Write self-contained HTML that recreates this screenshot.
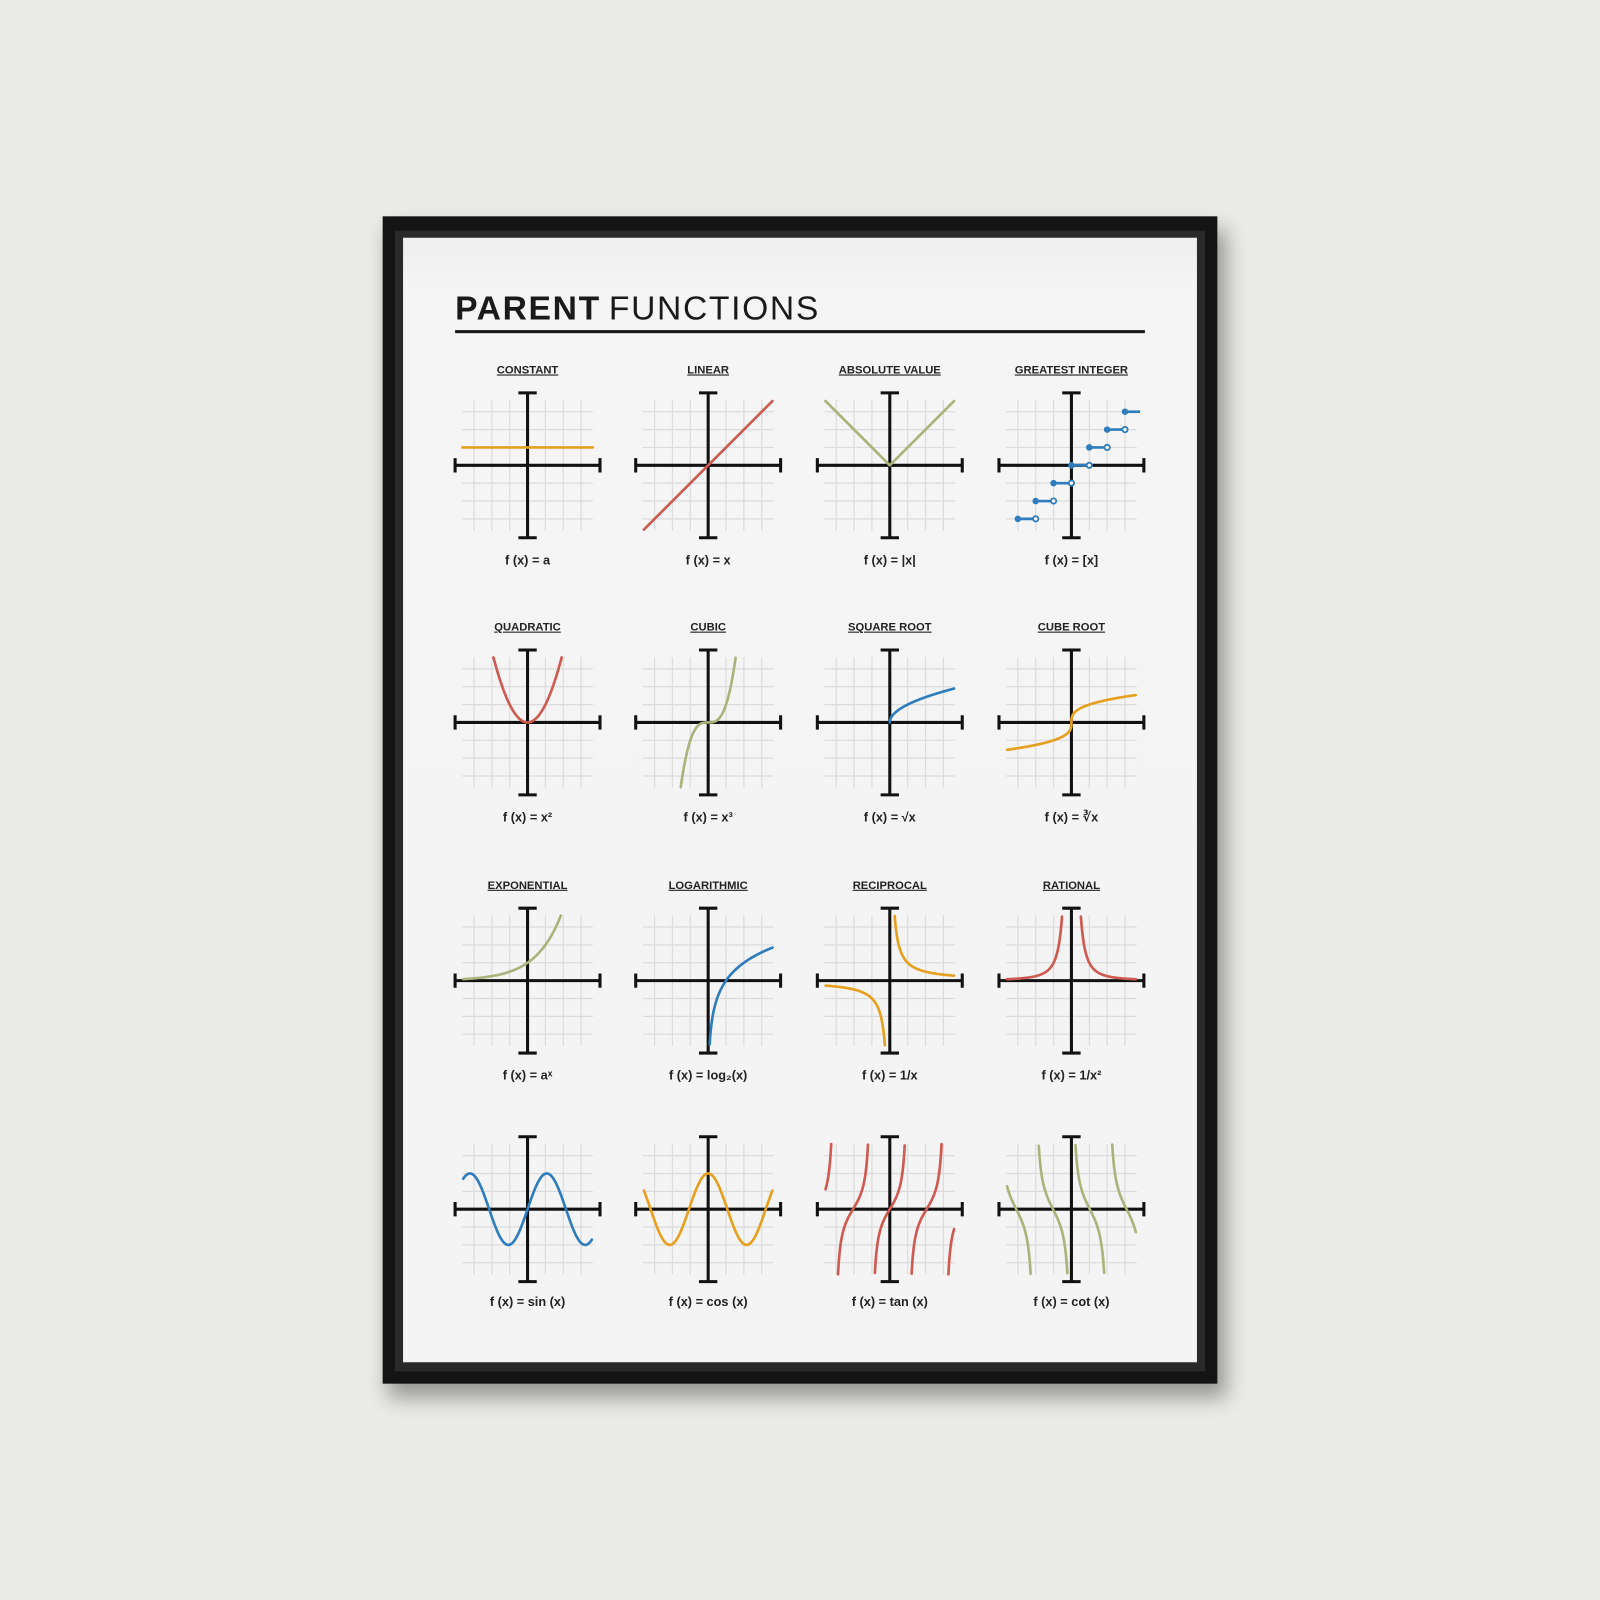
<!DOCTYPE html>
<html><head><meta charset="utf-8"><style>
html,body{margin:0;padding:0;background:#e9e9e7;}
svg{display:block;}
text{font-family:"Liberation Sans","DejaVu Sans",sans-serif;}
</style></head><body>
<svg id="poster" width="1600" height="1600" viewBox="0 0 1568 1568" xmlns="http://www.w3.org/2000/svg">
<defs>
<filter id="sh" x="-10%" y="-10%" width="120%" height="125%"><feGaussianBlur stdDeviation="10"/></filter>
<linearGradient id="mat" x1="0" y1="0" x2="0" y2="1"><stop offset="0" stop-color="#efefef"/><stop offset="0.05" stop-color="#f5f5f5"/><stop offset="1" stop-color="#f4f4f4"/></linearGradient>
</defs>
<rect x="0" y="0" width="1568" height="1568" fill="#eaeae8"/>
<rect x="380" y="225" width="822" height="1145" fill="#000" opacity="0.35" filter="url(#sh)"/>
<rect x="375" y="212" width="818" height="1144" fill="#141414"/>
<rect x="387" y="226" width="794" height="1118" fill="#2a2a2a"/>
<rect x="395" y="233" width="778" height="1102" fill="url(#mat)"/>
<text x="446" y="313" font-size="33" fill="#1a1a1a" letter-spacing="1.6"><tspan font-weight="bold">PARENT</tspan><tspan dx="8">FUNCTIONS</tspan></text>
<rect x="446" y="323.5" width="676" height="3" fill="#1a1a1a"/>
<g id="charts"></g>
</svg>
<script>
const titles = ["CONSTANT","LINEAR","ABSOLUTE VALUE","GREATEST INTEGER","QUADRATIC","CUBIC","SQUARE ROOT","CUBE ROOT","EXPONENTIAL","LOGARITHMIC","RECIPROCAL","RATIONAL","","","",""];
const formulas = ["f (x) = a","f (x) = x","f (x) = |x|","f (x) = [x]","f (x) = x²","f (x) = x³","f (x) = √x","f (x) = ∛x","f (x) = aˣ","f (x) = log₂(x)","f (x) = 1/x","f (x) = 1/x²","f (x) = sin (x)","f (x) = cos (x)","f (x) = tan (x)","f (x) = cot (x)"];
const colors = ["#e6a020","#cf5a52","#a9b47c","#2f7dbd","#cf5a52","#a9b47c","#2f7dbd","#e6a020","#a9b47c","#2f7dbd","#e6a020","#cf5a52","#2f7dbd","#e6a020","#cf5a52","#a9b47c"];
const slugs = ["constant","linear","absolute-value","greatest-integer","quadratic","cubic","square-root","cube-root","exponential","logarithmic","reciprocal","rational","sine","cosine","tangent","cotangent"];
const colCenters = [517,694,872,1050];
const rowCenters = [456,708,961,1185];
const constantValue = [1];
const stepValues = [-3,-2,-1,0,1,2,3];
const waveAmplitude = [2];
const wavePeriod = [4.3];
const tanPeriod = [2.06];
const cotPeriod = [2.06];

const NS="http://www.w3.org/2000/svg";
const U=17.5, YMAX=3.65;
const root=document.getElementById('charts');
function mk(tag,attrs,parent){const e=document.createElementNS(NS,tag);for(const k in attrs)e.setAttribute(k,attrs[k]);parent.appendChild(e);return e;}
const funcs=[
 x=>constantValue[0], x=>x, x=>Math.abs(x), null,
 x=>x*x, x=>x*x*x, x=>x>=0?Math.sqrt(x):NaN, x=>Math.cbrt(x),
 x=>Math.pow(2,x), x=>x>0?Math.log2(x):NaN, x=>x===0?NaN:1/x, x=>x===0?NaN:1/(x*x),
 x=>waveAmplitude[0]*Math.sin(2*Math.PI*x/wavePeriod[0]),
 x=>waveAmplitude[0]*Math.cos(2*Math.PI*x/wavePeriod[0]),
 x=>1.1*Math.tan(Math.PI*x/tanPeriod[0]),
 x=>1.3/Math.tan(Math.PI*x/cotPeriod[0])
];
for(let i=0;i<16;i++){
 const cx=colCenters[i%4], cy=rowCenters[Math.floor(i/4)];
 const sx=x=>cx+x*U, sy=y=>cy-y*U;
 const g=mk('g',{},root);
 
 
 for(let k=-3;k<=3;k++){if(k===0)continue;
  const gl=mk('line',{x1:sx(k),x2:sx(k),y1:cy-64,y2:cy+64,stroke:'#dcdcdc','stroke-width':1.2},g);
  
  
  const gh=mk('line',{y1:sy(k),y2:sy(k),x1:cx-64,x2:cx+64,stroke:'#dcdcdc','stroke-width':1.2},g);
  
  }
 const ax=mk('path',{d:`M${cx-71},${cy}H${cx+71}M${cx-71},${cy-7}V${cy+7}M${cx+71},${cy-7}V${cy+7}`,stroke:'#111','stroke-width':3,fill:'none'},g);
 
 
 const ay=mk('path',{d:`M${cx},${cy-71}V${cy+71}M${cx-9},${cy-71}H${cx+9}M${cx-9},${cy+71}H${cx+9}`,stroke:'#111','stroke-width':3,fill:'none'},g);
 
 
 if(funcs[i]){
  let d='',pen=false;
  const x0=(i===0)?-3.65:-3.6, x1=(i===0)?3.65:3.6;
  for(let t=0;t<=1200;t++){const x=x0+(x1-x0)*t/1200;const y=funcs[i](x);
   if(!isFinite(y)||Math.abs(y)>YMAX){pen=false;continue;}
   d+=(pen?'L':'M')+sx(x).toFixed(2)+','+sy(y).toFixed(2);pen=true;}
  const c=mk('path',{d:d,stroke:colors[i],'stroke-width':2.6,fill:'none','stroke-linecap':'round','stroke-linejoin':'round'},g);
  
  
 } else {
  stepValues.forEach(v=>{
   const len=(v===3)?0.85:1;
   const s=mk('line',{x1:sx(v),x2:sx(v+len),y1:sy(v),y2:sy(v),stroke:colors[i],'stroke-width':2.6},g);
   
   
   const p=mk('circle',{cx:sx(v),cy:sy(v),r:3.2,fill:colors[i]},g);
   
   
   if(v<3){const o=mk('circle',{cx:sx(v+1),cy:sy(v),r:2.6,fill:'#f5f5f5',stroke:colors[i],'stroke-width':1.8},g);
   
   }
  });
 }
 if(titles[i]){
  const t=mk('text',{x:cx,y:cy-90,'font-size':11,'font-weight':'bold','text-anchor':'middle',fill:'#222','text-decoration':'underline'},g);
  t.textContent=titles[i];
  
  
 }
 const f=mk('text',{x:cx,y:cy+(i>=12?95:97),'font-size':12.5,'font-weight':'bold','text-anchor':'middle',fill:'#222'},g);
 f.textContent=formulas[i];
 
 
}
</script>
</body></html>
